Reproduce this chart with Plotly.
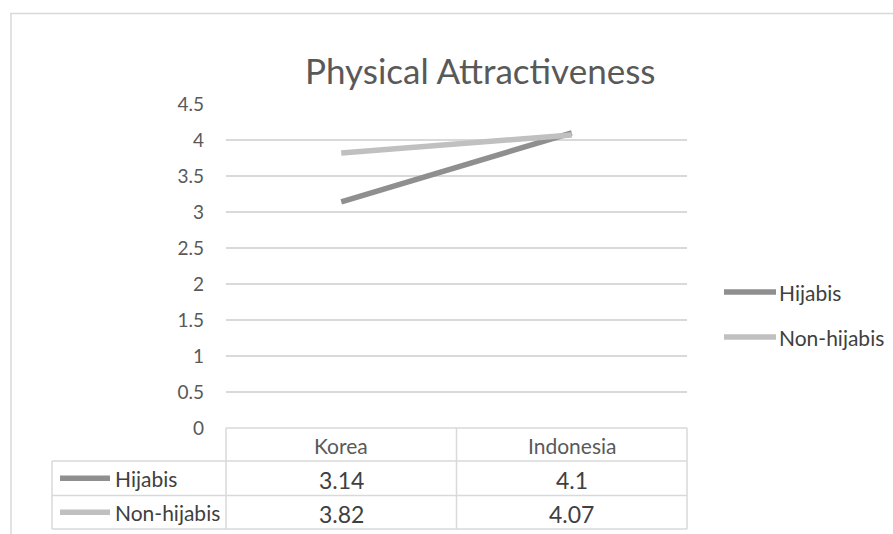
import plotly.graph_objects as go

# Data
categories = ["Korea", "Indonesia"]
series_names = ["Hijabis", "Non-hijabis"]
hijabis = [3.14, 4.1]
non_hijabis = [3.82, 4.07]
y_tick_values = [0, 0.5, 1, 1.5, 2, 2.5, 3, 3.5, 4, 4.5]
y_tick_labels = ["0", "0.5", "1", "1.5", "2", "2.5", "3", "3.5", "4", "4.5"]

W, H = 893, 534
FONT = "Lato"
TEXT = "#595959"
DARK = "#404040"
GRID = "#d9d9d9"
colors = ["#8f8f8f", "#c0c0c0"]


def px(x):
    return x / W


def py(y):
    return 1 - y / H


# plot area in pixels
PL, PR, PT, PB = 226, 687, 104, 428

fig = go.Figure()
for name, vals, col in zip(series_names, [hijabis, non_hijabis], colors):
    fig.add_trace(go.Scatter(
        x=categories, y=vals, mode="lines", name=name,
        line=dict(color=col, width=5.5), showlegend=False,
    ))

shapes = []
annotations = []

# outer frame (top and left edges)
shapes.append(dict(type="line", xref="paper", yref="paper",
                   x0=px(10), x1=px(893), y0=py(13.5), y1=py(13.5),
                   line=dict(color=GRID, width=1.5)))
shapes.append(dict(type="line", xref="paper", yref="paper",
                   x0=px(11), x1=px(11), y0=py(13), y1=py(534),
                   line=dict(color=GRID, width=1.5)))

# data table grid
col_edges = [PL, 456.5, PR]
row_edges = [PB, 461, 495.5, 529]
tline = dict(color=GRID, width=1.5)
shapes.append(dict(type="line", xref="paper", yref="paper",
                   x0=px(PL), x1=px(PR), y0=py(row_edges[0]), y1=py(row_edges[0]), line=tline))
for ry in row_edges[1:]:
    shapes.append(dict(type="line", xref="paper", yref="paper",
                       x0=px(52), x1=px(PR), y0=py(ry), y1=py(ry), line=tline))
shapes.append(dict(type="line", xref="paper", yref="paper",
                   x0=px(52), x1=px(52), y0=py(row_edges[1]), y1=py(row_edges[3]), line=tline))
for cx in col_edges:
    shapes.append(dict(type="line", xref="paper", yref="paper",
                       x0=px(cx), x1=px(cx), y0=py(row_edges[0]), y1=py(row_edges[3]), line=tline))

# header row
for i, cat in enumerate(categories):
    cx = (col_edges[i] + col_edges[i + 1]) / 2
    cy = (row_edges[0] + row_edges[1]) / 2 + 0.5
    annotations.append(dict(x=px(cx), y=py(cy), xref="paper", yref="paper",
                            text=cat, showarrow=False, xanchor="center", yanchor="middle",
                            font=dict(family=FONT, size=21, color=TEXT)))

# value rows with legend keys
for r, (name, vals, col) in enumerate(zip(series_names, [hijabis, non_hijabis], colors)):
    cy = (row_edges[r + 1] + row_edges[r + 2]) / 2
    shapes.append(dict(type="line", xref="paper", yref="paper",
                       x0=px(60), x1=px(110), y0=py(cy), y1=py(cy),
                       line=dict(color=col, width=5.5)))
    annotations.append(dict(x=px(113), y=py(cy + 0.5), xref="paper", yref="paper",
                            text=name, showarrow=False, xanchor="left", yanchor="middle",
                            font=dict(family=FONT, size=21, color=DARK)))
    for i, v in enumerate(vals):
        cx = (col_edges[i] + col_edges[i + 1]) / 2
        annotations.append(dict(x=px(cx), y=py(cy + 1.5), xref="paper", yref="paper",
                                text=str(v), showarrow=False, xanchor="center", yanchor="middle",
                                font=dict(family=FONT, size=23, color=DARK)))

# legend on the right
for r, (name, col) in enumerate(zip(series_names, colors)):
    ly = 292 + 45 * r
    shapes.append(dict(type="line", xref="paper", yref="paper",
                       x0=px(724), x1=px(776), y0=py(ly), y1=py(ly),
                       line=dict(color=col, width=5.5)))
    annotations.append(dict(x=px(777), y=py(ly), xref="paper", yref="paper",
                            text=name, showarrow=False, xanchor="left", yanchor="middle",
                            font=dict(family=FONT, size=21, color=DARK)))

# title
annotations.append(dict(x=px(481), y=py(70), xref="paper", yref="paper",
                        text="Physical Attractiveness", showarrow=False,
                        xanchor="center", yanchor="middle",
                        font=dict(family=FONT, size=35, color=TEXT)))

fig.update_layout(
    width=W, height=H,
    margin=dict(l=0, r=0, t=0, b=0, pad=0, autoexpand=False),
    paper_bgcolor="white", plot_bgcolor="white",
    shapes=shapes, annotations=annotations,
    showlegend=False,
    xaxis=dict(domain=[px(PL), px(PR)], range=[-0.5, 1.5], type="category", automargin=False,
               showticklabels=False, showgrid=False, zeroline=False, showline=False, ticks=""),
    yaxis=dict(domain=[py(PB), py(PT)], range=[0, 4.5], automargin=False,
               tickvals=y_tick_values, ticktext=y_tick_labels,
               showgrid=True, gridcolor=GRID, gridwidth=1.5, zeroline=False, showline=False,
               ticks="", ticklabelstandoff=21,
               tickfont=dict(family=FONT, size=19, color=TEXT)),
)

fig.write_html("out.html",
               post_script="document.body.style.margin='0';document.body.style.overflow='hidden';")
